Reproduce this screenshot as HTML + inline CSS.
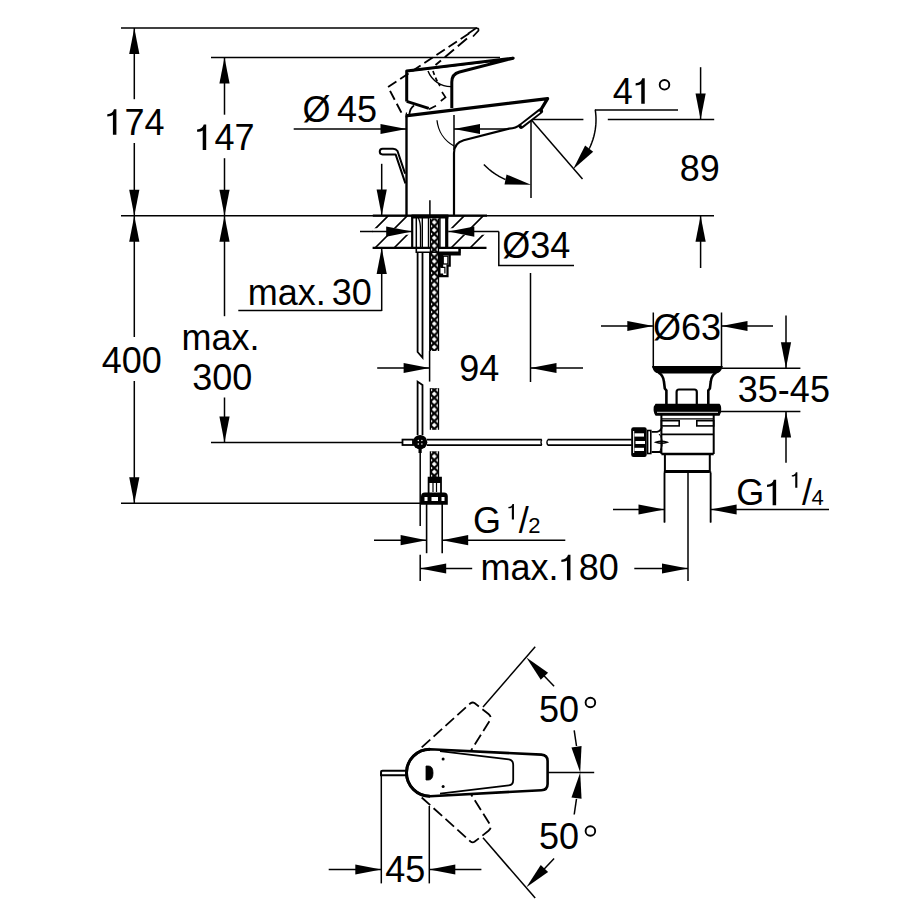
<!DOCTYPE html>
<html><head><meta charset="utf-8"><style>
html,body{margin:0;padding:0;background:#fff;}
svg{display:block;}
text{font-family:"Liberation Sans",sans-serif;fill:#000;stroke:none;}
</style></head><body>
<svg width="922" height="922" viewBox="0 0 922 922" stroke="#000" stroke-linecap="butt" fill="none">
<rect x="0" y="0" width="922" height="922" fill="#fff" stroke="none"/>
<line x1="121.00" y1="28.00" x2="477.00" y2="28.00" stroke-width="1.5"/>
<line x1="211.00" y1="57.60" x2="500.00" y2="57.60" stroke-width="1.5"/>
<line x1="121.00" y1="215.70" x2="714.00" y2="215.70" stroke-width="1.5"/>
<line x1="211.00" y1="442.60" x2="402.50" y2="442.60" stroke-width="1.5"/>
<line x1="121.00" y1="503.30" x2="422.00" y2="503.30" stroke-width="1.5"/>
<line x1="134.30" y1="28.00" x2="134.30" y2="99.20" stroke-width="1.5"/>
<line x1="134.30" y1="143.00" x2="134.30" y2="337.00" stroke-width="1.5"/>
<line x1="134.30" y1="381.00" x2="134.30" y2="503.30" stroke-width="1.5"/>
<polygon points="134.30,28.00 139.40,54.00 129.20,54.00" stroke="none" fill="#000"/>
<polygon points="134.30,215.70 129.20,189.70 139.40,189.70" stroke="none" fill="#000"/>
<polygon points="134.30,215.70 139.40,241.70 129.20,241.70" stroke="none" fill="#000"/>
<polygon points="134.30,503.30 129.20,477.30 139.40,477.30" stroke="none" fill="#000"/>
<path d="M112.91,134.70 L116.40,134.70 L116.40,109.32 L113.95,109.32 C113.23,112.38 110.89,113.89 107.29,114.25 L107.29,116.52 C109.81,116.52 111.97,115.98 112.91,115.08 Z " fill="#000" stroke="none"/>
<text x="124.58" y="134.70" font-size="36">74</text>
<text x="101.77" y="373.00" font-size="36">400</text>
<line x1="224.50" y1="57.60" x2="224.50" y2="114.70" stroke-width="1.5"/>
<line x1="224.50" y1="158.20" x2="224.50" y2="316.20" stroke-width="1.5"/>
<line x1="224.50" y1="397.50" x2="224.50" y2="442.60" stroke-width="1.5"/>
<polygon points="224.50,57.60 229.60,83.60 219.40,83.60" stroke="none" fill="#000"/>
<polygon points="224.50,215.70 219.40,189.70 229.60,189.70" stroke="none" fill="#000"/>
<polygon points="224.50,215.70 229.60,241.70 219.40,241.70" stroke="none" fill="#000"/>
<polygon points="224.50,442.60 219.40,416.60 229.60,416.60" stroke="none" fill="#000"/>
<path d="M202.71,150.00 L206.20,150.00 L206.20,124.62 L203.75,124.62 C203.03,127.68 200.69,129.19 197.09,129.55 L197.09,131.82 C199.61,131.82 201.77,131.28 202.71,130.38 Z " fill="#000" stroke="none"/>
<text x="214.38" y="150.00" font-size="36">47</text>
<text x="181.61" y="350.30" font-size="36">max.</text>
<text x="192.33" y="389.70" font-size="36">300</text>
<line x1="381.70" y1="163.80" x2="381.70" y2="215.60" stroke-width="1.5"/>
<polygon points="381.70,215.60 376.60,189.60 386.80,189.60" stroke="none" fill="#000"/>
<line x1="381.70" y1="248.00" x2="381.70" y2="311.00" stroke-width="1.5"/>
<polygon points="381.70,248.00 386.80,274.00 376.60,274.00" stroke="none" fill="#000"/>
<line x1="238.30" y1="310.50" x2="381.70" y2="310.50" stroke-width="1.5"/>
<text x="247.71" y="305.00" font-size="36">max.</text>
<text x="331.73" y="305.00" font-size="36">30</text>
<line x1="293.70" y1="129.00" x2="406.50" y2="129.00" stroke-width="1.5"/>
<polygon points="406.50,129.00 380.50,134.10 380.50,123.90" stroke="none" fill="#000"/>
<line x1="454.00" y1="129.00" x2="509.00" y2="129.00" stroke-width="1.5"/>
<polygon points="454.00,129.00 480.00,123.90 480.00,134.10" stroke="none" fill="#000"/>
<line x1="454.00" y1="115.00" x2="454.00" y2="150.00" stroke-width="1.5"/>
<text x="302.45" y="122.30" font-size="36">Ø</text>
<text x="337.07" y="122.30" font-size="36">45</text>
<line x1="531.00" y1="119.60" x2="583.40" y2="119.60" stroke-width="1.5"/>
<line x1="607.80" y1="119.60" x2="714.20" y2="119.60" stroke-width="1.5"/>
<line x1="700.60" y1="67.20" x2="700.60" y2="119.60" stroke-width="1.5"/>
<polygon points="700.60,119.60 695.50,93.60 705.70,93.60" stroke="none" fill="#000"/>
<line x1="700.60" y1="215.70" x2="700.60" y2="268.00" stroke-width="1.5"/>
<polygon points="700.60,215.70 705.70,241.70 695.50,241.70" stroke="none" fill="#000"/>
<text x="679.84" y="180.80" font-size="36">89</text>
<line x1="531.00" y1="119.60" x2="582.50" y2="178.90" stroke-width="1.5"/>
<line x1="531.00" y1="119.60" x2="531.00" y2="198.10" stroke-width="1.5"/>
<line x1="595.00" y1="110.00" x2="678.00" y2="110.00" stroke-width="1.5"/>
<path d="M595.22,109.64 L595.46,111.30 L595.65,112.96 L595.80,114.63 L595.91,116.30 L595.98,117.98 L596.00,119.65 L595.98,121.33 L595.92,123.00 L595.81,124.67 L595.66,126.34 L595.47,128.00 L595.23,129.66 L594.95,131.31 L594.63,132.95 L594.27,134.59 L593.87,136.21 L593.42,137.83 L592.93,139.43 L592.40,141.02 L591.84,142.59 L591.23,144.15 L590.58,145.70 L589.89,147.22 L589.16,148.73" stroke-width="1.5" fill="none"/>
<polygon points="573.13,169.20 585.14,145.59 593.17,151.87" stroke="none" fill="#000"/>
<path d="M483.85,164.44 L484.62,165.24 L485.40,166.02 L486.20,166.79 L487.01,167.55 L487.83,168.29 L488.66,169.02 L489.51,169.73 L490.37,170.43 L491.24,171.12 L492.12,171.79 L493.01,172.44 L493.92,173.08 L494.83,173.71 L495.76,174.32 L496.69,174.91 L497.64,175.48 L498.59,176.04 L499.56,176.59 L500.53,177.12 L501.51,177.63 L502.50,178.12 L503.50,178.60 L504.51,179.06 L505.53,179.50" stroke-width="1.5" fill="none"/>
<polygon points="531.00,184.70 504.51,184.50 506.55,174.50" stroke="none" fill="#000"/>
<text x="612.87" y="103.70" font-size="36">4</text>
<path d="M641.25,103.70 L644.74,103.70 L644.74,78.32 L642.29,78.32 C641.57,81.38 639.23,82.89 635.63,83.25 L635.63,85.52 C638.15,85.52 640.31,84.98 641.25,84.08 Z " fill="#000" stroke="none"/>
<circle cx="664.5" cy="84.8" r="4.8" stroke-width="1.9" fill="none"/>
<path d="M498.8,231.6 L498.8,265.5 L574,265.5" stroke-width="1.5" fill="none"/>
<text x="502.35" y="257.80" font-size="36">Ø34</text>
<line x1="530.50" y1="273.00" x2="530.50" y2="382.00" stroke-width="1.5"/>
<line x1="530.50" y1="368.00" x2="583.00" y2="368.00" stroke-width="1.5"/>
<polygon points="530.50,368.00 556.50,362.90 556.50,373.10" stroke="none" fill="#000"/>
<line x1="377.20" y1="368.00" x2="429.60" y2="368.00" stroke-width="1.5"/>
<polygon points="429.60,368.00 403.60,373.10 403.60,362.90" stroke="none" fill="#000"/>
<text x="459.31" y="381.30" font-size="36">94</text>
<line x1="653.30" y1="312.50" x2="653.30" y2="368.00" stroke-width="1.5"/>
<line x1="721.50" y1="312.50" x2="721.50" y2="368.00" stroke-width="1.5"/>
<line x1="601.00" y1="326.00" x2="653.30" y2="326.00" stroke-width="1.5"/>
<polygon points="653.30,326.00 627.30,331.10 627.30,320.90" stroke="none" fill="#000"/>
<line x1="721.50" y1="326.00" x2="773.00" y2="326.00" stroke-width="1.5"/>
<polygon points="721.50,326.00 747.50,320.90 747.50,331.10" stroke="none" fill="#000"/>
<text x="653.05" y="340.30" font-size="36">Ø63</text>
<line x1="721.50" y1="368.20" x2="800.40" y2="368.20" stroke-width="1.5"/>
<line x1="720.00" y1="411.40" x2="800.40" y2="411.40" stroke-width="1.5"/>
<line x1="786.00" y1="315.60" x2="786.00" y2="368.20" stroke-width="1.5"/>
<polygon points="786.00,368.20 780.90,342.20 791.10,342.20" stroke="none" fill="#000"/>
<line x1="786.00" y1="411.40" x2="786.00" y2="462.70" stroke-width="1.5"/>
<polygon points="786.00,411.40 791.10,437.40 780.90,437.40" stroke="none" fill="#000"/>
<text x="737.83" y="401.50" font-size="36">35-45</text>
<line x1="613.00" y1="509.50" x2="664.50" y2="509.50" stroke-width="1.5"/>
<polygon points="664.50,509.50 638.50,514.60 638.50,504.40" stroke="none" fill="#000"/>
<line x1="710.60" y1="509.50" x2="829.00" y2="509.50" stroke-width="1.5"/>
<polygon points="710.60,509.50 736.60,504.40 736.60,514.60" stroke="none" fill="#000"/>
<line x1="664.50" y1="473.00" x2="664.50" y2="522.50" stroke-width="1.5"/>
<line x1="710.60" y1="473.00" x2="710.60" y2="522.50" stroke-width="1.5"/>
<text x="736.29" y="505.20" font-size="36">G</text>
<path d="M772.64,505.20 L776.14,505.20 L776.14,479.82 L773.69,479.82 C772.97,482.88 770.63,484.39 767.03,484.75 L767.03,487.02 C769.55,487.02 771.71,486.48 772.64,485.58 Z " fill="#000" stroke="none"/>
<path d="M795.23,487.70 L797.36,487.70 L797.36,472.19 L795.87,472.19 C795.43,474.06 794.00,474.98 791.80,475.20 L791.80,476.59 C793.34,476.59 794.66,476.26 795.23,475.71 Z " fill="#000" stroke="none"/>
<text x="802.00" y="505.20" font-size="36">/</text>
<text x="811.60" y="505.20" font-size="22">4</text>
<line x1="374.00" y1="540.20" x2="426.60" y2="540.20" stroke-width="1.5"/>
<polygon points="426.60,540.20 400.60,545.30 400.60,535.10" stroke="none" fill="#000"/>
<line x1="442.20" y1="540.20" x2="565.30" y2="540.20" stroke-width="1.5"/>
<polygon points="442.20,540.20 468.20,535.10 468.20,545.30" stroke="none" fill="#000"/>
<line x1="426.60" y1="504.00" x2="426.60" y2="553.20" stroke-width="1.6"/>
<line x1="442.20" y1="504.00" x2="442.20" y2="553.20" stroke-width="1.6"/>
<text x="472.99" y="532.80" font-size="36">G</text>
<path d="M511.83,519.40 L513.96,519.40 L513.96,503.89 L512.47,503.89 C512.03,505.76 510.60,506.68 508.40,506.90 L508.40,508.29 C509.94,508.29 511.26,507.96 511.83,507.41 Z " fill="#000" stroke="none"/>
<text x="518.70" y="532.80" font-size="36">/</text>
<text x="528.29" y="532.60" font-size="22">2</text>
<line x1="420.20" y1="453.00" x2="420.20" y2="526.00" stroke-width="1.5"/>
<line x1="420.20" y1="554.80" x2="420.20" y2="580.90" stroke-width="1.5"/>
<line x1="688.00" y1="473.00" x2="688.00" y2="580.90" stroke-width="1.5"/>
<line x1="420.20" y1="568.50" x2="472.20" y2="568.50" stroke-width="1.5"/>
<polygon points="420.20,568.50 446.20,563.40 446.20,573.60" stroke="none" fill="#000"/>
<line x1="634.30" y1="568.50" x2="688.00" y2="568.50" stroke-width="1.5"/>
<polygon points="688.00,568.50 662.00,573.60 662.00,563.40" stroke="none" fill="#000"/>
<text x="480.61" y="580.20" font-size="36">max.</text>
<path d="M566.97,580.20 L570.47,580.20 L570.47,554.82 L568.02,554.82 C567.30,557.88 564.96,559.39 561.36,559.75 L561.36,562.02 C563.88,562.02 566.04,561.48 566.97,560.58 Z " fill="#000" stroke="none"/>
<text x="578.64" y="580.20" font-size="36">80</text>
<line x1="548.00" y1="772.40" x2="594.20" y2="772.40" stroke-width="1.5"/>
<line x1="483.00" y1="707.00" x2="535.20" y2="646.70" stroke-width="1.5"/>
<line x1="483.00" y1="837.80" x2="535.20" y2="898.10" stroke-width="1.5"/>
<line x1="554.10" y1="686.30" x2="540.40" y2="671.90" stroke-width="1.5"/>
<polygon points="526.40,657.50 548.10,672.70 540.75,679.77" stroke="none" fill="#000"/>
<line x1="574.20" y1="730.30" x2="576.50" y2="746.00" stroke-width="1.5"/>
<polygon points="580.20,772.40 571.45,747.39 581.55,745.94" stroke="none" fill="#000"/>
<line x1="554.10" y1="858.50" x2="540.40" y2="872.90" stroke-width="1.5"/>
<polygon points="526.40,887.30 540.75,865.03 548.10,872.10" stroke="none" fill="#000"/>
<line x1="574.20" y1="814.50" x2="576.50" y2="798.80" stroke-width="1.5"/>
<polygon points="580.20,772.40 581.55,798.86 571.45,797.41" stroke="none" fill="#000"/>
<text x="538.96" y="722.00" font-size="36">50</text>
<text x="538.96" y="849.40" font-size="36">50</text>
<circle cx="590.4" cy="702.5" r="4.8" stroke-width="1.9" fill="none"/>
<circle cx="590.4" cy="831" r="4.8" stroke-width="1.9" fill="none"/>
<line x1="381.30" y1="770.70" x2="381.30" y2="883.40" stroke-width="1.5"/>
<line x1="429.30" y1="806.00" x2="429.30" y2="883.40" stroke-width="1.5"/>
<line x1="328.70" y1="869.50" x2="381.30" y2="869.50" stroke-width="1.5"/>
<polygon points="381.30,869.50 355.30,874.60 355.30,864.40" stroke="none" fill="#000"/>
<line x1="429.30" y1="869.50" x2="481.40" y2="869.50" stroke-width="1.5"/>
<polygon points="429.30,869.50 455.30,864.40 455.30,874.60" stroke="none" fill="#000"/>
<text x="385.17" y="882.40" font-size="36">45</text>
<clipPath id="cl1"><rect x="372.8" y="215.6" width="39.4" height="32.4"/><rect x="448.2" y="215.6" width="38.8" height="32.4"/></clipPath>
<path d="M350.4,215.6 L318.0,248 M369.4,215.6 L337.0,248 M388.4,215.6 L356.0,248 M407.4,215.6 L375.0,248 M426.4,215.6 L394.0,248 M445.4,215.6 L413.0,248 M464.4,215.6 L432.0,248 M483.4,215.6 L451.0,248 M502.4,215.6 L470.0,248 M521.4,215.6 L489.0,248 M540.4,215.6 L508.0,248 " stroke-width="1.6" clip-path="url(#cl1)"/>
<line x1="372.80" y1="231.60" x2="412.20" y2="231.60" stroke-width="6.5" stroke="#fff"/>
<line x1="448.20" y1="231.60" x2="487.00" y2="231.60" stroke-width="6.5" stroke="#fff"/>
<line x1="360.00" y1="231.60" x2="412.20" y2="231.60" stroke-width="1.5"/>
<polygon points="412.20,231.60 386.20,236.70 386.20,226.50" stroke="none" fill="#000"/>
<line x1="448.30" y1="231.60" x2="498.80" y2="231.60" stroke-width="1.5"/>
<polygon points="448.30,231.60 474.30,226.50 474.30,236.70" stroke="none" fill="#000"/>
<line x1="372.80" y1="215.60" x2="487.00" y2="215.60" stroke-width="2.3"/>
<line x1="372.60" y1="247.80" x2="486.50" y2="247.80" stroke-width="2.3"/>
<rect x="411.50" y="214.50" width="36.90" height="4.00" stroke-width="0" fill="#000" stroke="none"/>
<line x1="412.20" y1="215.60" x2="412.20" y2="248.00" stroke-width="2.2"/>
<line x1="446.70" y1="215.60" x2="446.70" y2="248.00" stroke-width="3.2"/>
<path d="M406.5,216 L406.5,115.5" stroke-width="2.4" fill="none"/>
<path d="M405.5,115.8 L547.6,98.7 L540.5,110.3" stroke-width="3.2" fill="none" stroke-linejoin="round"/>
<path d="M520.5,124.5 Q516,128.4 509,128.6 L463.7,140.3 Q454,143 454,153 L454,216" stroke-width="2.2" fill="none"/>
<line x1="540.30" y1="111.20" x2="521.20" y2="126.20" stroke-width="5.4" stroke-linecap="round"/>
<line x1="539.30" y1="112.20" x2="522.20" y2="125.20" stroke-width="1.5" stroke="#fff" stroke-linecap="round"/>
<path d="M437,120.2 A33,33 0 0 0 454,146" stroke-width="1.3" fill="none"/>
<path d="M406.7,101.4 L406.7,71 L513.2,58.2 L459.5,72 Q451.8,74 451.8,82 L451.8,108" stroke-width="3.0" fill="none" stroke-linejoin="round"/>
<path d="M406.7,71.5 L500,60.3" stroke-width="1.2" fill="none"/>
<path d="M406.7,101.4 L428.8,108.3" stroke-width="2.8" fill="none"/>
<path d="M428,71 A24.5,24.5 0 0 0 451.8,86.6" stroke-width="1.4" fill="none"/>
<path d="M409.3,114.6 Q410,108 414,105.4" stroke-width="1.8" fill="none"/>
<path d="M469,33.5 L388,87 L401.5,112.8 L407,113.5" stroke-width="1.9" fill="none" stroke-dasharray="10,4.5"/>
<path d="M468,33.8 L475.5,28.5 Q479,27.5 478.5,30.5 L473,36.5" stroke-width="1.7" fill="none"/>
<path d="M467,38.6 L435.5,65.1" stroke-width="1.9" fill="none" stroke-dasharray="12,5"/>
<path d="M433,71 Q436,80 440,86" stroke-width="1.7" fill="none" stroke-dasharray="4,3"/>
<path d="M442,92 L445.5,97.3 L440.8,101 M436,105.7 L429,109.2" stroke-width="1.7" fill="none"/>
<path d="M405.1,173.6 L397.5,151 Q396,148.7 393,148.7 L382.6,148.7 A2.85,2.85 0 0 0 382.6,154.4 L395.6,154.4 L405.4,183.4" stroke-width="2.0" fill="none" stroke-linejoin="round"/>
<line x1="429.90" y1="200.20" x2="429.90" y2="216.00" stroke-width="1.5"/>
<line x1="416.30" y1="218.00" x2="416.30" y2="247.00" stroke-width="1.5"/>
<path d="M418.4,218 Q420.5,222 420.5,230 L420.5,247" stroke-width="1.3" fill="none"/>
<line x1="422.30" y1="218.00" x2="422.30" y2="247.00" stroke-width="1.4"/>
<line x1="428.40" y1="218.00" x2="428.40" y2="247.00" stroke-width="1.2"/>
<line x1="439.90" y1="218.00" x2="439.90" y2="247.00" stroke-width="1.5"/>
<defs><pattern id="hx" width="8.3" height="7.8" patternUnits="userSpaceOnUse" x="430.1" y="0"><rect width="8.3" height="7.8" fill="#000"/><polygon points="4.15,1.5 6.6,3.9 4.15,6.3 1.7,3.9" fill="#fff" stroke="none"/><polygon points="0,0 2.45,0 0,2.4" fill="#fff" stroke="none"/><polygon points="8.3,0 5.85,0 8.3,2.4" fill="#fff" stroke="none"/><polygon points="0,7.8 2.45,7.8 0,5.4" fill="#fff" stroke="none"/><polygon points="8.3,7.8 5.85,7.8 8.3,5.4" fill="#fff" stroke="none"/></pattern></defs>
<rect x="430.10" y="218.50" width="8.50" height="132.50" stroke-width="0" fill="url(#hx)" stroke="none"/>
<line x1="430.40" y1="218.50" x2="430.40" y2="351.00" stroke-width="1.3"/>
<line x1="438.50" y1="218.50" x2="438.50" y2="351.00" stroke-width="1.3"/>
<rect x="430.10" y="388.20" width="8.50" height="41.60" stroke-width="0" fill="url(#hx)" stroke="none"/>
<line x1="430.40" y1="388.20" x2="430.40" y2="429.80" stroke-width="1.3"/>
<line x1="438.50" y1="388.20" x2="438.50" y2="429.80" stroke-width="1.3"/>
<rect x="430.10" y="451.30" width="8.50" height="26.40" stroke-width="0" fill="url(#hx)" stroke="none"/>
<line x1="430.40" y1="451.30" x2="430.40" y2="477.70" stroke-width="1.3"/>
<line x1="438.50" y1="451.30" x2="438.50" y2="477.70" stroke-width="1.3"/>
<path d="M416.3,248.5 L416.3,252.3 L459.6,252.3 L459.6,248.5" stroke-width="1.6" fill="none"/>
<path d="M440,254.3 L459.6,254.3 L459.6,249" stroke-width="2.4" fill="none"/>
<path d="M438.6,254 L449.7,254 L449.7,265.7 L447.5,265.7 L447.5,276.1 L438.6,276.1" stroke-width="2.2" fill="none"/>
<rect x="438.60" y="254.00" width="4.60" height="22.10" stroke-width="0" fill="#000" stroke="none"/>
<rect x="443.20" y="256.20" width="4.70" height="7.80" stroke-width="1.3" fill="none"/>
<rect x="440.50" y="267.40" width="4.40" height="6.10" stroke-width="0" fill="#fff" stroke="none"/>
<path d="M440.5,267.4 L444.9,267.4 L444.9,273.5" stroke-width="1.2" fill="none"/>
<path d="M417.6,253 L417.6,352 L422.5,357.6 L422.5,253" stroke-width="1.8" fill="none"/>
<path d="M417.6,435 L417.6,381.6 L422.5,385 L422.5,435" stroke-width="1.8" fill="none"/>
<line x1="429.60" y1="253.00" x2="429.60" y2="351.00" stroke-width="1.0"/>
<line x1="429.60" y1="351.00" x2="429.60" y2="381.60" stroke-width="1.5"/>
<rect x="402.50" y="439.60" width="10.50" height="5.40" stroke-width="1.8" fill="none"/>
<circle cx="420.1" cy="442.2" r="7.2" fill="#000" stroke="none"/>
<circle cx="418.3" cy="440.4" r="0.75" fill="#fff" stroke="none"/>
<circle cx="421.90000000000003" cy="440.4" r="0.75" fill="#fff" stroke="none"/>
<circle cx="418.3" cy="444.0" r="0.75" fill="#fff" stroke="none"/>
<circle cx="421.90000000000003" cy="444.0" r="0.75" fill="#fff" stroke="none"/>
<line x1="420.10" y1="448.00" x2="420.10" y2="453.00" stroke-width="3.2"/>
<path d="M427,439.7 L541.8,439.7 M427,445.2 L541.8,445.2 M547.7,439.7 L631.8,439.7 M547.7,445.2 L631.8,445.2" stroke-width="1.8" fill="none"/>
<path d="M541.8,439.7 Q540,442.4 541.8,445.2 M547.7,439.7 Q546,442.4 547.7,445.2" stroke-width="1.2" fill="none"/>
<path d="M428.6,493.4 L428.6,477.7 L441,477.7 L441,493.4" stroke-width="1.8" fill="none"/>
<rect x="428.60" y="477.70" width="12.40" height="5.30" stroke-width="0" fill="#000" stroke="none"/>
<line x1="433.00" y1="483.00" x2="433.00" y2="492.00" stroke-width="1.2"/>
<line x1="436.50" y1="483.00" x2="436.50" y2="492.00" stroke-width="1.2"/>
<path d="M422,503.8 L422,496.5 Q422,493.4 425,493.4 L444,493.4 Q446.8,493.4 446.8,496.5 L446.8,503.8 Z" stroke-width="2.0" fill="#000"/>
<rect x="424.50" y="497.00" width="3.00" height="4.00" stroke-width="0" fill="#fff" stroke="none"/>
<rect x="431.50" y="497.00" width="6.50" height="4.00" stroke-width="0" fill="#fff" stroke="none"/>
<rect x="441.50" y="497.00" width="3.00" height="4.00" stroke-width="0" fill="#fff" stroke="none"/>
<path d="M653.3,367 L721.5,367 Q720,372 715.7,372.6 L659,372.6 Q654.5,372 653.3,367 Z" stroke-width="2.0" fill="#000"/>
<path d="M658.5,372.6 Q663.4,375 664,382 L664.8,388.5 L666.4,390.5 L666.4,404.5 M716.2,372.6 Q711.3,375 710.7,382 L709.9,388.5 L708.3,390.5 L708.3,404.5" stroke-width="2.6" fill="none"/>
<path d="M676.6,404.5 L676.6,392 Q676.6,389.5 679,389.5 L694.4,389.5 Q696.8,389.5 696.8,392 L696.8,404.5" stroke-width="2.2" fill="none"/>
<path d="M656,404.5 L719,404.5 Q721,406 720.2,412 L719,414.9 L656,414.9 Q654,412 654.5,407 Z" stroke-width="1.6" fill="#000"/>
<line x1="657.00" y1="412.30" x2="718.00" y2="412.30" stroke-width="0.9" stroke="#fff"/>
<path d="M661.4,414.9 L661.4,454 M713.7,414.9 L713.7,454" stroke-width="2.0" fill="none"/>
<line x1="661.40" y1="418.80" x2="713.70" y2="418.80" stroke-width="1.3"/>
<rect x="661.40" y="420.70" width="17.80" height="5.20" stroke-width="1.6" fill="none"/>
<rect x="696.80" y="420.70" width="16.90" height="5.20" stroke-width="1.6" fill="none"/>
<line x1="661.40" y1="434.40" x2="713.70" y2="434.40" stroke-width="1.7"/>
<line x1="661.40" y1="454.00" x2="713.70" y2="454.00" stroke-width="2.6"/>
<path d="M664.9,454 L664.9,471.5 L709.8,471.5 L709.8,454" stroke-width="2.0" fill="none"/>
<line x1="664.90" y1="471.50" x2="709.80" y2="471.50" stroke-width="2.8"/>
<path d="M633.5,427.3 L644.5,427.3 Q646.7,427.3 646.7,429.5 L646.7,454.7 Q646.7,456.9 644.5,456.9 L633.5,456.9 Q631.2,456.9 631.2,454.7 L631.2,429.5 Q631.2,427.3 633.5,427.3 Z" stroke-width="0" fill="#000" stroke="none"/>
<rect x="634.50" y="433.30" width="9.50" height="3.30" stroke-width="0" fill="#fff" stroke="none"/>
<rect x="635.50" y="441.00" width="9.50" height="3.00" stroke-width="0" fill="#fff" stroke="none"/>
<rect x="634.50" y="447.80" width="9.50" height="3.20" stroke-width="0" fill="#fff" stroke="none"/>
<rect x="633.10" y="431.00" width="1.10" height="22.00" stroke-width="0" fill="#fff" stroke="none"/>
<rect x="647.60" y="430.50" width="3.20" height="23.00" stroke-width="1.6" fill="none"/>
<path d="M651.6,431.9 L657,431.9 Q661,431 661.9,427 M651.6,452 L661.4,452" stroke-width="1.8" fill="none"/>
<path d="M656,442.2 Q661.6,440.2 667,442.2 Q661.6,444.2 656,442.2 Z" stroke-width="1.5" fill="none"/>
<path d="M659,434 Q663,438 662,446 L660,451" stroke-width="1.0" fill="none"/>
<line x1="664.50" y1="471.50" x2="664.50" y2="522.50" stroke-width="1.5"/>
<line x1="710.60" y1="471.50" x2="710.60" y2="522.50" stroke-width="1.5"/>
<path d="M430,749.2 L541.4,754.6 Q547.6,755 547.6,761 L547.6,784 Q547.6,790 541.4,790.2 L430,796.2 A23.5,23.5 0 0 1 430,749.2 Z" stroke-width="2.6" fill="none" stroke-linejoin="round"/>
<path d="M430,796.2 A23.5,23.5 0 0 1 430,749.2" stroke-width="3.0" fill="none"/>
<path d="M440,751.2 L508.8,759.4 Q513.2,760 513.2,765 L513.2,780 Q513.2,785 508.8,785.4 L440,793.6" stroke-width="1.8" fill="none"/>
<path d="M426,766 L428.5,766 Q433,766 433,773 Q433,780 428.5,780 L426,780 Z" stroke-width="0.8" fill="#000"/>
<circle cx="443.1" cy="758.9" r="1.5" fill="#000" stroke="none"/>
<circle cx="443.1" cy="786.5" r="1.5" fill="#000" stroke="none"/>
<path d="M406.5,770.7 L382.5,770.7 Q381,770.7 381,772.2 L381,775.2 L406.5,775.2" stroke-width="1.9" fill="none"/>
<path d="M421.7,747.3 L470.5,703.3 Q472.5,701.8 474.5,703 L488.5,714 Q491.5,716.5 490.5,719.5 L471.2,750.3" stroke-width="1.8" fill="none" stroke-dasharray="11.5,4.5"/>
<path d="M421.7,797.5 L470.5,841.5 Q472.5,843 474.5,841.8 L488.5,830.8 Q491.5,828.3 490.5,825.3 L471.2,794.5" stroke-width="1.8" fill="none" stroke-dasharray="11.5,4.5"/>
</svg></body></html>
